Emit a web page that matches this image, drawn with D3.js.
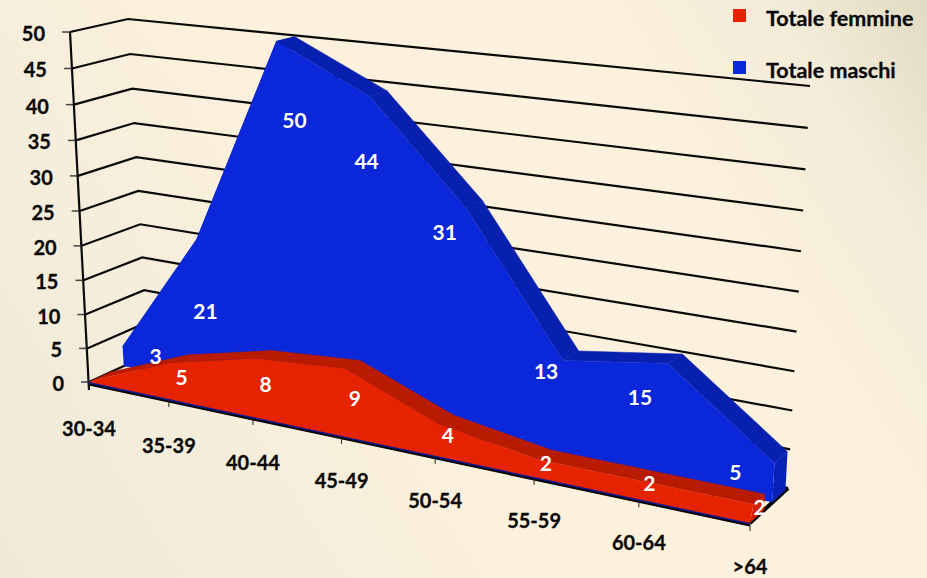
<!DOCTYPE html>
<html>
<head>
<meta charset="utf-8">
<script src="https://cdn.jsdelivr.net/npm/d3@7/dist/d3.min.js"></script>
<style>
  html, body { margin: 0; padding: 0; background: #fdf2dc; }
  svg { display: block; }
  text { font-family: Lato, "Open Sans", sans-serif; font-weight: 700; }
</style>
</head>
<body>
<svg id="chart" width="927" height="578"></svg>
<script>
// Chart values
const ageBands = ["30-34", "35-39", "40-44", "45-49", "50-54", "55-59", "60-64", ">64"];
const maleTotals = [3, 21, 50, 44, 31, 13, 15, 5];
const femaleTotals = [0, 5, 8, 9, 4, 2, 2, 2];
const valueTicks = [0, 5, 10, 15, 20, 25, 30, 35, 40, 45, 50];
const seriesNames = ["Totale femmine", "Totale maschi"];

// Layout: corners of the perspective box
const W = 927, H = 578;
const floorQuad = [[89, 382], [750, 523], [788, 488], [148, 355]];
const roofQuad = [[70, 32], [770, 100], [810, 86], [128, 19]];
// Depth of each area as [base of front face, top of front face, top of back edge]
const maleDepth = [0.58, 0.58, 0.93];
const femaleDepth = [0, 0.07, 0.36];
const colors = {
  maleFront: "#0a27d9", maleTop: "#0720b0", maleEnd: "#0822b8",
  femaleFront: "#e62300", femaleTop: "#b91b00", femaleEnd: "#d42000"
};
// Label centres relative to each area's front top vertex
const maleNudge = [[33, 10], [9, 72], [18, 79], [-3, 65], [-21, 25], [-17, 11], [-28, 34], [-39, 10]];
const femaleNudge = [[0, 0], [10, 15], [10, 26], [10, 30], [9, 12], [8, 4], [7, 2], [6, 3]];

// Maps the unit square onto a quad: [0,0], [1,0], [1,1], [0,1] go to q[0]..q[3]
function squareToQuad(q) {
  const [[x0, y0], [x1, y1], [x2, y2], [x3, y3]] = q;
  const dx1 = x1 - x2, dx2 = x3 - x2, sx = x0 - x1 + x2 - x3;
  const dy1 = y1 - y2, dy2 = y3 - y2, sy = y0 - y1 + y2 - y3;
  const den = dx1 * dy2 - dx2 * dy1;
  const g = (sx * dy2 - dx2 * sy) / den;
  const h = (dx1 * sy - sx * dy1) / den;
  const a = x1 - x0 + g * x1, b = x3 - x0 + h * x3;
  const d = y1 - y0 + g * y1, e = y3 - y0 + h * y3;
  return (s, t) => {
    const w = g * s + h * t + 1;
    return [(a * s + b * t + x0) / w, (d * s + e * t + y0) / w];
  };
}
const floorMap = squareToQuad(floorQuad);
const roofMap = squareToQuad(roofQuad);

// Foreshortening along an axis: a linear scale bent by a projective ratio
const foreshorten = (scale, k) => v => { const f = scale(v); return f / (f + k * (1 - f)); };
const bandScale = d3.scaleLinear().domain([0, ageBands.length - 1]).range([0, 1]);
const uFloor = foreshorten(bandScale, 1.11);
const uRoof = foreshorten(bandScale, 1.25);
const vScale = foreshorten(d3.scaleLinear().domain([0, 50]).range([0, 1]), 1.047);

function project(u, v, depth) {
  const t = vScale(v);
  const a = floorMap(uFloor(u), depth), b = roofMap(uRoof(u), depth);
  return [a[0] + (b[0] - a[0]) * t, a[1] + (b[1] - a[1]) * t];
}

const svg = d3.select("#chart");
const defs = svg.append("defs");
const grad = defs.append("linearGradient").attr("id", "paper")
  .attr("gradientUnits", "userSpaceOnUse")
  .attr("x1", 0).attr("y1", H).attr("x2", W).attr("y2", 0);
[[0, "#efe9d7"], [0.2, "#f4eddb"], [0.45, "#fcf1dc"], [0.72, "#fcf1dc"], [0.88, "#f3ecd9"], [1, "#e2dac2"]]
  .forEach(([o, c]) => grad.append("stop").attr("offset", o).attr("stop-color", c));
svg.append("rect").attr("width", W).attr("height", H).attr("fill", "url(#paper)");

const line = d3.line();
const closed = pts => line(pts) + "Z";

// Walls: gridlines run along the left wall and then the back wall
const grid = svg.append("g").attr("fill", "none").attr("stroke", "#0a0a0a").attr("stroke-width", 2.2);
const lastU = ageBands.length - 1;
valueTicks.forEach(v => {
  grid.append("path").attr("d", line([project(0, v, 0), project(0, v, 1), project(lastU, v, 1)]));
  const p = project(0, v, 0);
  grid.append("path").attr("d", line([[p[0] - 8, p[1]], p])).attr("stroke", "#444").attr("stroke-width", 1.5);
});
const axisBase = project(0, 0, 0);
grid.append("path").attr("d", line([project(0, 50, 0), [axisBase[0], axisBase[1] + 8]]));

// Front and right floor edges
const edgeFront = ageBands.map((_, i) => project(i, 0, 0));
svg.append("path").attr("d", line(edgeFront.map(p => [p[0], p[1] + 2]))).attr("stroke", "#050505").attr("stroke-width", 3).attr("fill", "none");
svg.append("path").attr("d", line([[axisBase[0], axisBase[1]], project(lastU, 0, 0)])).attr("stroke", "#0a1a90").attr("stroke-width", 3).attr("fill", "none");
svg.append("path").attr("d", line([project(lastU, 0, 0), project(lastU, 0, 1)])).attr("stroke", "#050505").attr("stroke-width", 4).attr("fill", "none");
ageBands.forEach((_, i) => {
  const p = project(i, 0, 0);
  svg.append("path").attr("d", line([[p[0], p[1] + 1], [p[0], p[1] + 8]])).attr("stroke", "#222").attr("stroke-width", 1);
});

// One extruded area: top strip, end cap, then front face
function drawArea(values, [dBase, dFront, dBack], front, top, end) {
  const g = svg.append("g");
  const topF = values.map((v, i) => project(i, v, dFront));
  const topB = values.map((v, i) => project(i, v, dBack));
  values.forEach((v, i) => {
    if (i === lastU) return;
    g.append("path").attr("d", closed([topF[i], topF[i + 1], topB[i + 1], topB[i]]))
      .attr("fill", top).attr("stroke", top).attr("stroke-width", 0.5);
  });
  const n = lastU;
  g.append("path").attr("d", closed([topF[n], topB[n], project(n, 0, dBack), project(n, 0, dBase)])).attr("fill", end);
  const baseline = values.map((_, i) => project(i, 0, dBase)).reverse();
  g.append("path").attr("d", closed(topF.concat(baseline))).attr("fill", front);
  return topF;
}
const maleTops = drawArea(maleTotals, maleDepth, colors.maleFront, colors.maleTop, colors.maleEnd);
const femaleTops = drawArea(femaleTotals, femaleDepth, colors.femaleFront, colors.femaleTop, colors.femaleEnd);

// Value labels
function drawLabels(values, tops, nudge) {
  values.forEach((v, i) => {
    if (v === 0) return;
    svg.append("text").text(v)
      .attr("x", tops[i][0] + nudge[i][0]).attr("y", tops[i][1] + nudge[i][1])
      .attr("dy", "0.35em").attr("text-anchor", "middle")
      .attr("font-size", 21).attr("fill", "#fff");
  });
}
drawLabels(maleTotals, maleTops, maleNudge);
drawLabels(femaleTotals, femaleTops, femaleNudge);

// Axis text
valueTicks.forEach(v => {
  const p = project(0, v, 0);
  svg.append("text").text(v).attr("x", p[0] - 25).attr("y", p[1] + 2)
    .attr("dy", "0.35em").attr("text-anchor", "end").attr("font-size", 20).attr("fill", "#0a0a0a")
    .attr("stroke", "#0a0a0a").attr("stroke-width", 0.3);
});
ageBands.forEach((label, i) => {
  const p = project(i, 0, 0);
  svg.append("text").text(label).attr("x", p[0]).attr("y", p[1] + 47 - i * 0.5)
    .attr("dy", "0.35em").attr("text-anchor", "middle").attr("font-size", 20).attr("fill", "#0a0a0a")
    .attr("stroke", "#0a0a0a").attr("stroke-width", 0.3);
});

// Legend
const legendColors = [colors.femaleFront, colors.maleFront];
seriesNames.forEach((name, i) => {
  const y = 9 + i * 52;
  svg.append("rect").attr("x", 733).attr("y", y).attr("width", 13).attr("height", 13).attr("fill", legendColors[i]);
  svg.append("text").text(name).attr("x", 766).attr("y", y + 9).attr("dy", "0.35em")
    .attr("font-size", 21.5).attr("fill", "#0a0a0a")
    .attr("stroke", "#0a0a0a").attr("stroke-width", 0.3);
});
</script>
</body>
</html>
